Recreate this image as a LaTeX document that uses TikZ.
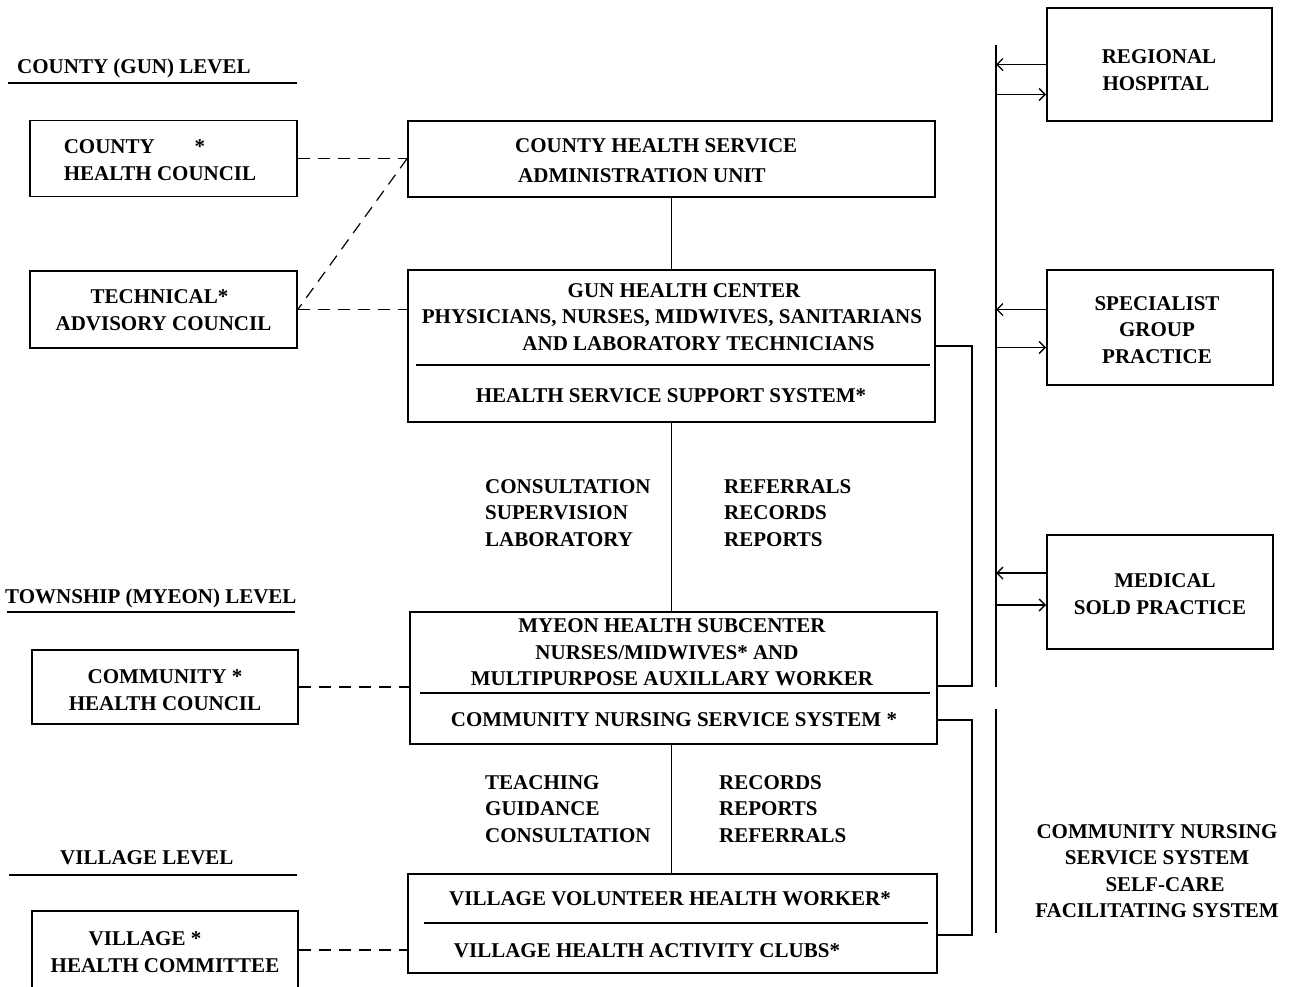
\documentclass[tikz,border=0pt]{standalone}
\usepackage{fontspec}
\setmainfont{Liberation Serif}
\usepackage{tikz}
\usetikzlibrary{arrows.meta, positioning}

\tikzset{
  lbl/.style={font=\bfseries\fontsize{21}{26.5}\selectfont, inner sep=0pt, align=center, text depth=0pt},
  lbll/.style={lbl, align=left, anchor=west},
  box/.style={draw, line width=1.6pt, rectangle, inner sep=0pt, lbl},
  dashlink/.style={line width=1.2pt, dash pattern=on 12pt off 8pt},
  link/.style={line width=1.4pt},
  arr/.style={line width=1.4pt, -{Straight Barb[length=6pt, width=12pt]}},
}

\begin{document}
\begin{tikzpicture}[x=1pt, y=-1pt]
  \useasboundingbox[fill=white] (0,0) rectangle (1296,986);
  \clip (0,0) rectangle (1296,986);

  % level headings
  \node[lbll] (hcounty) at (17,66) {COUNTY (GUN) LEVEL};
  \draw[link] (8,83) -- (297,83);
  \node[lbll] (htown) at (5,596) {TOWNSHIP (MYEON) LEVEL};
  \draw[link] (7,612) -- (295,612);
  \node[lbll] (hvill) at (60,858) {VILLAGE LEVEL};
  \draw[link] (9,875) -- (297,875);

  % councils on the left
  \node[box, minimum width=267pt, minimum height=76pt] (ccouncil) at (163.5,158.5) {};
  \node[lbl, align=left] (ccouncilt) at (160,160) {COUNTY\hspace{1.9em}*\\HEALTH COUNCIL};
  \node[box, minimum width=267pt, minimum height=77pt] (tac) at (163.5,309.5) {};
  \node[lbl] (tact) at (163.5,310) {\hspace*{-8pt}TECHNICAL*\\ADVISORY COUNCIL};
  \node[box, minimum width=266pt, minimum height=74pt] (chc) at (165,687) {};
  \node[lbl] (chct) at (165,690) {COMMUNITY *\\HEALTH COUNCIL};
  \node[box, minimum width=266pt, minimum height=78pt] (vhc) at (165,950) {};
  \node[lbl] (vhct) at (165,952) {\hspace*{-40pt}VILLAGE *\\HEALTH COMMITTEE};

  % main chain
  \node[box, minimum width=527pt, minimum height=76pt] (admin) at (671.5,159) {};
  \node[lbl, align=left, anchor=west] (admint) at (515,161) {COUNTY HEALTH SERVICE\\[3.5pt]\hspace*{3pt}ADMINISTRATION UNIT};
  \node[box, minimum width=527pt, minimum height=152pt] (gun) at (671.5,346) {};
  \node[lbl] (gunt) at (672,317) {\hspace*{24pt}GUN HEALTH CENTER\\PHYSICIANS, NURSES, MIDWIVES, SANITARIANS\\\hspace*{53pt}AND LABORATORY TECHNICIANS};
  \draw[link] (416,365) -- (930,365);
  \node[lbl] (gunb) at (671,396) {HEALTH SERVICE SUPPORT SYSTEM*};

  \node[box, minimum width=527pt, minimum height=132pt] (myeon) at (673.5,678) {};
  \node[lbl] (myeont) at (672,652.5) {MYEON HEALTH SUBCENTER\\\hspace*{-10pt}NURSES/MIDWIVES* AND\\MULTIPURPOSE AUXILLARY WORKER};
  \draw[link] (420,693) -- (930,693);
  \node[lbl] (myeonb) at (674,720) {COMMUNITY NURSING SERVICE SYSTEM *};

  \node[box, minimum width=529pt, minimum height=99pt] (vbox) at (672.5,923.5) {};
  \node[lbl] (vboxt) at (670,899) {VILLAGE VOLUNTEER HEALTH WORKER*};
  \draw[link] (424,923) -- (928,923);
  \node[lbl] (vboxb) at (647,951) {VILLAGE HEALTH ACTIVITY CLUBS*};

  \draw[link] (admin.south) -- (gun.north);
  \draw[link] (gun.south) -- (gun.south |- myeon.north);
  \draw[link] (myeon.south -| gun.south) -- (vbox.north -| gun.south);

  % flow labels
  \node[lbll] (downA) at (485,513) {CONSULTATION\\SUPERVISION\\LABORATORY};
  \node[lbll] (upA) at (724,513) {REFERRALS\\RECORDS\\REPORTS};
  \node[lbll] (downB) at (485,809) {TEACHING\\GUIDANCE\\CONSULTATION};
  \node[lbll] (upB) at (719,809) {RECORDS\\REPORTS\\REFERRALS};

  % dashed links to councils
  \draw[dashlink] (ccouncil.east) -- (ccouncil.east -| admin.west);
  \draw[dashlink] (tac.east) -- (tac.east -| gun.west);
  \draw[dashlink] (ccouncil.east -| admin.west) -- (tac.east);
  \draw[dashlink] (chc.east) -- (chc.east -| myeon.west);
  \draw[dashlink] (vhc.east) -- (vhc.east -| vbox.west);

  % side links
  \coordinate (kneeA) at (972,0);
  \draw[link] (gun.east) -- (gun.east -| kneeA) |- ([yshift=-8pt]myeon.east);
  \draw[link] ([yshift=-42pt]myeon.east) -- ([yshift=-42pt]myeon.east -| kneeA) |- ([yshift=-11.5pt]vbox.east);

  % referral bus
  \coordinate (busT) at (996,45);
  \coordinate (busM) at (996,687);
  \coordinate (busN) at (996,709);
  \coordinate (busB) at (996,933);
  \draw[link] (busT) -- (busM);
  \draw[link] (busN) -- (busB);

  \node[box, minimum width=225pt, minimum height=113pt] (rh) at (1159.5,64.5) {};
  \node[lbl] (rht) at (1156,70) {\hspace*{6pt}REGIONAL\\HOSPITAL};
  \node[box, minimum width=226pt, minimum height=115pt] (sgp) at (1160,327.5) {};
  \node[lbl] (sgpt) at (1157,330) {SPECIALIST\\GROUP\\PRACTICE};
  \node[box, minimum width=226pt, minimum height=114pt] (msp) at (1160,592) {};
  \node[lbl] (mspt) at (1160,594) {\hspace*{10pt}MEDICAL\\SOLD PRACTICE};

  \draw[arr] (rh.west) -- (rh.west -| busT);
  \draw[arr] ([yshift=-30pt]rh.west -| busT) -- ([yshift=-30pt]rh.west);
  \draw[arr] ([yshift=18pt]sgp.west) -- ([yshift=18pt]sgp.west -| busT);
  \draw[arr] ([yshift=-20pt]sgp.west -| busT) -- ([yshift=-20pt]sgp.west);
  \draw[arr] ([yshift=19pt]msp.west) -- ([yshift=19pt]msp.west -| busT);
  \draw[arr] ([yshift=-13pt]msp.west -| busT) -- ([yshift=-13pt]msp.west);

  \node[lbl] (cnss) at (1157,871) {COMMUNITY NURSING\\SERVICE SYSTEM\\\hspace*{16pt}SELF-CARE\\FACILITATING SYSTEM};
\end{tikzpicture}
\end{document}
